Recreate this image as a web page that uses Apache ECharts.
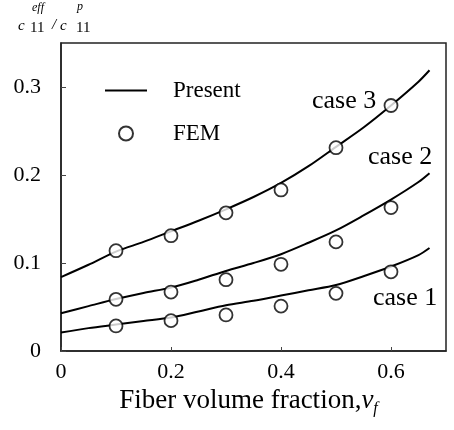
<!DOCTYPE html>
<html>
<head>
<meta charset="utf-8">
<script src="https://cdn.jsdelivr.net/npm/echarts@6/dist/echarts.min.js"></script>
<style>
  html, body { margin: 0; padding: 0; background: #fff; }
  #main { width: 454px; height: 430px; }
</style>
</head>
<body>
<div id="main"></div>
<script>
  // fiber volume fraction sampled along the "Present" curves
  var vfLine = [0, 0.05, 0.1, 0.15, 0.2, 0.25, 0.3, 0.35, 0.4, 0.45, 0.5, 0.55, 0.6, 0.65, 0.67];
  var present1 = [0.021, 0.026, 0.030, 0.034, 0.038, 0.045, 0.052, 0.057, 0.063, 0.069, 0.075, 0.085, 0.096, 0.109, 0.117];
  var present2 = [0.043, 0.051, 0.059, 0.066, 0.072, 0.081, 0.091, 0.100, 0.110, 0.123, 0.137, 0.154, 0.172, 0.192, 0.202];
  var present3 = [0.084, 0.098, 0.113, 0.124, 0.136, 0.148, 0.161, 0.175, 0.191, 0.210, 0.232, 0.254, 0.279, 0.306, 0.319];

  // FEM points
  var vfFem = [0.1, 0.2, 0.3, 0.4, 0.5, 0.6];
  var fem1 = [0.0285, 0.0345, 0.041, 0.051, 0.0655, 0.090];
  var fem2 = [0.0587, 0.067, 0.081, 0.0985, 0.124, 0.163];
  var fem3 = [0.114, 0.131, 0.157, 0.183, 0.231, 0.279];

  var xTicks = [0, 0.2, 0.4, 0.6];
  var yTicks = [0, 0.1, 0.2, 0.3];

  var serif = '"Liberation Serif", "Times New Roman", serif';

  function pairs(xs, ys) {
    var out = [];
    for (var i = 0; i < xs.length; i++) out.push([xs[i], ys[i]]);
    return out;
  }

  function lineSeries(ys) {
    return {
      name: 'Present',
      type: 'line',
      data: pairs(vfLine, ys),
      smooth: 0.3,
      symbol: 'none',
      lineStyle: { color: '#000', width: 2 },
      itemStyle: { color: '#000' },
      z: 2
    };
  }

  function femSeries(ys) {
    return {
      name: 'FEM',
      type: 'scatter',
      data: pairs(vfFem, ys),
      symbol: 'circle',
      symbolSize: 13,
      itemStyle: { color: '#fff', borderColor: '#000', borderWidth: 1.8 },
      z: 3
    };
  }

  var chart = echarts.init(document.getElementById('main'));
  chart.setOption({
    animation: false,
    backgroundColor: '#fff',
    grid: {
      left: 61, right: 8, top: 43, bottom: 79,
      show: true, borderColor: '#222', borderWidth: 1.5
    },
    legend: {
      orient: 'vertical',
      left: 100, top: 74,
      itemWidth: 42, itemHeight: 14, itemGap: 20,
      data: [
        { name: 'Present', icon: 'path://M0 0 H42 V2 H0 Z', itemStyle: { color: '#000', borderWidth: 0 } },
        { name: 'FEM' }
      ],
      textStyle: { fontFamily: serif, fontSize: 23, color: '#000', padding: [0, 0, 0, 21] }
    },
    xAxis: {
      type: 'value',
      min: 0, max: 0.7, interval: 0.2,
      name: '{a|Fiber volume fraction,}{i|v}{s|f}',
      nameLocation: 'middle',
      nameGap: 33,
      nameTextStyle: {
        fontFamily: serif, color: '#000', padding: [0, 10, 0, 0],
        rich: {
          a: { fontFamily: serif, fontSize: 27, color: '#000' },
          i: { fontFamily: serif, fontSize: 27, fontStyle: 'italic', color: '#000' },
          s: { fontFamily: serif, fontSize: 16, fontStyle: 'italic', color: '#000', padding: [14, 0, 0, 0] }
        }
      },
      axisLine: { show: true, lineStyle: { color: '#222', width: 1.5 } },
      axisTick: { show: true, inside: true, length: 4, lineStyle: { color: '#444' } },
      splitLine: { show: false },
      axisLabel: {
        margin: 10, showMaxLabel: false,
        fontFamily: serif, fontSize: 22, color: '#000',
        formatter: function (v) { return xTicks.indexOf(Math.round(v * 10) / 10) >= 0 ? String(v) : ''; }
      }
    },
    yAxis: {
      type: 'value',
      min: 0, max: 0.35, interval: 0.1,
      axisLine: { show: true, lineStyle: { color: '#222', width: 1.5 } },
      axisTick: { show: true, inside: true, length: 5, lineStyle: { color: '#444' } },
      splitLine: { show: false },
      axisLabel: {
        margin: 20, showMaxLabel: false,
        fontFamily: serif, fontSize: 22, color: '#000',
        formatter: function (v) { return yTicks.indexOf(Math.round(v * 10) / 10) >= 0 ? String(v) : ''; }
      }
    },
    graphic: [
      // y-axis title  c11^eff / c11^p
      { type: 'text', left: 18, top: 19, style: { text: 'c', font: 'italic 15px ' + serif, fill: '#000' } },
      { type: 'text', left: 32, top: 2, style: { text: 'eff', font: 'italic 12px ' + serif, fill: '#000' } },
      { type: 'text', left: 30, top: 21, style: { text: '11', font: '15px ' + serif, fill: '#000' } },
      { type: 'text', left: 52, top: 18, style: { text: '/', font: 'italic 15px ' + serif, fill: '#000' } },
      { type: 'text', left: 60, top: 19, style: { text: 'c', font: 'italic 15px ' + serif, fill: '#000' } },
      { type: 'text', left: 77, top: 1, style: { text: 'p', font: 'italic 12px ' + serif, fill: '#000' } },
      { type: 'text', left: 76, top: 21, style: { text: '11', font: '15px ' + serif, fill: '#000' } },
      // curve labels
      { type: 'text', left: 312, top: 88, style: { text: 'case 3', font: '26px ' + serif, fill: '#000' } },
      { type: 'text', left: 368, top: 144, style: { text: 'case 2', font: '26px ' + serif, fill: '#000' } },
      { type: 'text', left: 373, top: 285, style: { text: 'case 1', font: '26px ' + serif, fill: '#000' } }
    ],
    series: [
      lineSeries(present1), lineSeries(present2), lineSeries(present3),
      femSeries(fem1), femSeries(fem2), femSeries(fem3)
    ]
  });
</script>
</body>
</html>
